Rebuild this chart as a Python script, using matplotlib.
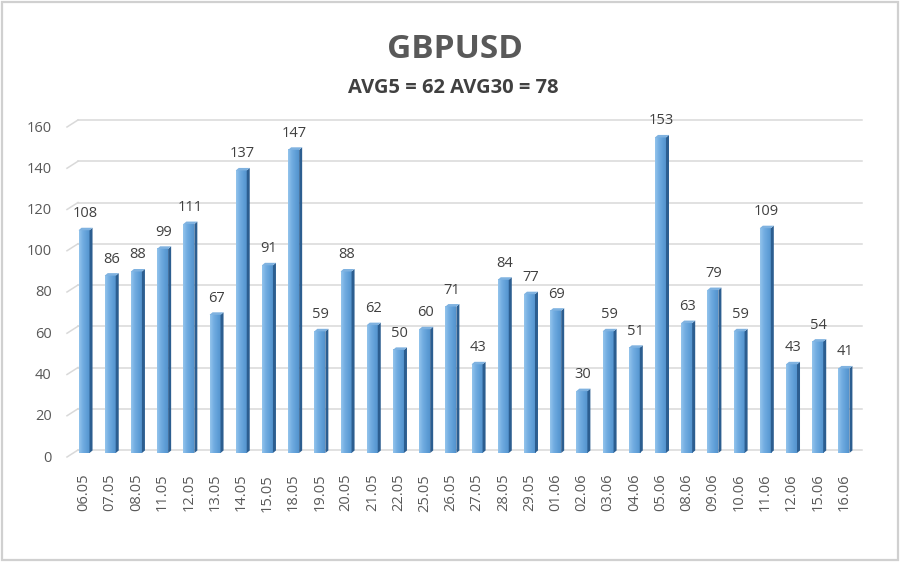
import matplotlib
matplotlib.use("Agg")
import matplotlib.pyplot as plt
import numpy as np
from matplotlib.patches import Polygon, Rectangle
from matplotlib.colors import LinearSegmentedColormap
from matplotlib.transforms import ScaledTranslation

plt.rcParams['font.family'] = ['Open Sans', 'DejaVu Sans']

dates = ["06.05", "07.05", "08.05", "11.05", "12.05", "13.05", "14.05", "15.05",
         "18.05", "19.05", "20.05", "21.05", "22.05", "25.05", "26.05", "27.05",
         "28.05", "29.05", "01.06", "02.06", "03.06", "04.06", "05.06", "08.06",
         "09.06", "10.06", "11.06", "12.06", "15.06", "16.06"]
ranges = [108, 86, 88, 99, 111, 67, 137, 91, 147, 59, 88, 62, 50, 60, 71, 43,
          84, 77, 69, 30, 59, 51, 153, 63, 79, 59, 109, 43, 54, 41]
yticks = [0, 20, 40, 60, 80, 100, 120, 140, 160]
title = "GBPUSD"
subtitle = "AVG5 = 62 AVG30 = 78"

W, H = 900, 562
fig = plt.figure(figsize=(W / 100, H / 100), dpi=100)
fig.patch.set_facecolor("white")

# axes in pixels: left 78, right 862, bottom 453, top 123
ax = fig.add_axes([78 / W, (H - 453) / H, (862 - 78) / W, 330 / H])
x0, x1 = -0.23, 29.69
ax.set_xlim(x0, x1)
ax.set_ylim(0, 160)
for s in ax.spines.values():
    s.set_visible(False)

px_x = (862 - 78) / (x1 - x0)   # pixels per x unit
px_y = 330 / 160                # pixels per y unit

# back wall gridlines + little floor stubs on the left
back = 3 / px_y
for v in yticks:
    ax.plot([x0, x1], [v + back, v + back], color="#d9d9d9", lw=1.1,
            zorder=0, clip_on=False)
    ax.plot([x0 - 11 / px_x, x0], [v - 4 / px_y, v + back], color="#d9d9d9",
            lw=1.1, zorder=0, clip_on=False)

# 3d-ish bars
w = 11 / px_x
dx = 3 / px_x
dy = 2.5 / px_y
cmap = LinearSegmentedColormap.from_list("front", ["#94c4ec", "#74aee2", "#61a0d8", "#5493cd"])
grad = np.linspace(0, 1, 64).reshape(1, -1)
xs = np.arange(len(ranges))
for x, v in zip(xs, ranges):
    ax.imshow(grad, cmap=cmap, extent=[x - w / 2, x + w / 2, 0, v],
              aspect="auto", zorder=2, interpolation="bilinear")
    side = Polygon([(x + w / 2, 0), (x + w / 2 + dx, dy), (x + w / 2 + dx, v + dy),
                    (x + w / 2, v)], closed=True, facecolor="#2c5e90",
                   edgecolor="none", zorder=2)
    top = Polygon([(x - w / 2, v), (x - w / 2 + dx, v + dy), (x + w / 2 + dx, v + dy),
                   (x + w / 2, v)], closed=True, facecolor="#7fb2e0",
                  edgecolor="none", zorder=2)
    ax.add_patch(side)
    ax.add_patch(top)
    ax.annotate(str(v), (x, v), xytext=(1, 9), textcoords="offset pixels",
                ha="center", va="bottom", fontsize=10.5, color="#404040")

ax.set_xlim(x0, x1)
ax.set_ylim(0, 160)

ax.set_xticks(xs)
ax.set_xticklabels(dates, rotation=90, fontsize=10.5, color="#595959")
ax.set_yticks(yticks)
ax.set_yticklabels([str(t) for t in yticks], fontsize=10.5, color="#595959")
ax.tick_params(axis="both", length=0)
ax.tick_params(axis="x", pad=15)
ax.tick_params(axis="y", pad=19)
off = ScaledTranslation(0, -0.03, fig.dpi_scale_trans)
for lab in ax.get_yticklabels():
    lab.set_transform(lab.get_transform() + off)

fig.text(455 / W, 1 - 49 / H, title, ha="center", va="center",
         fontsize=24, fontweight="bold", color="#595959")
fig.text(453 / W, 1 - 88 / H, subtitle, ha="center", va="center",
         fontsize=14.5, fontweight="bold", color="#404040")

# light frame round the picture
fig.patches.append(Rectangle((2 / W, 2 / H), 1 - 4 / W, 1 - 4 / H,
                             transform=fig.transFigure, fill=False,
                             edgecolor="#d0d0d0", lw=1.6))

fig.savefig("out.png", dpi=100)
